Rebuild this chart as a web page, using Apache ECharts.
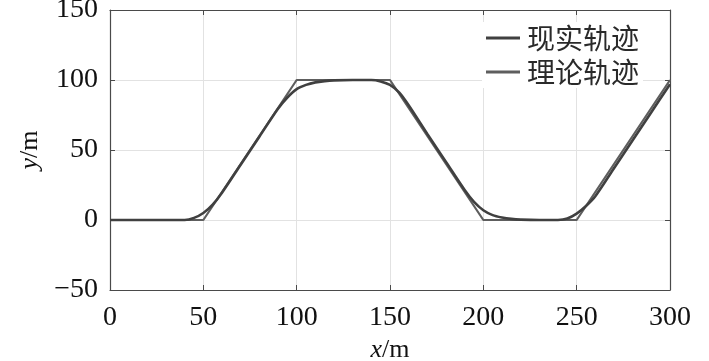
<!DOCTYPE html>
<html>
<head>
<meta charset="utf-8">
<script src="https://cdn.jsdelivr.net/npm/echarts@6/dist/echarts.min.js"></script>
<style>html,body{margin:0;padding:0;background:#fff}#main{width:709px;height:361px}</style>
</head>
<body>
<div id="main"></div>
<script>
// 理论轨迹 (折线) 与 现实轨迹 (平滑)
const theoryX = [0, 50, 100, 150, 200, 250, 300];
const theoryY = [0, 0, 100, 100, 0, 0, 100];
const realX = [0, 10, 20, 30, 40, 45, 50, 55, 60, 70, 80, 90, 95, 100, 105, 110, 115, 120, 130, 140,
  145, 150, 155, 160, 170, 180, 190, 195, 200, 205, 210, 215, 220, 230, 240, 245, 250, 255, 260,
  270, 280, 290, 300];
const realY = [0, 0, 0, 0, 0, 1.5, 5, 11, 19.5, 39.5, 59.5, 79.5, 87.5, 93.5, 96.5, 98.3, 99.2, 99.7, 100, 100,
  99, 96.5, 91, 82, 61.5, 41.5, 21.5, 13, 7, 3.5, 1.8, 0.8, 0.3, 0, 0, 1, 4.5, 10, 17,
  37, 57, 77, 97];
const xTicks = [0, 300, 50];   // min, max, step
const yTicks = [-50, 150, 50];

const serif = '"Liberation Serif", "DejaVu Serif", serif';
const axisColor = '#4a4a4a';
const zip = (xs, ys) => xs.map((x, i) => [x, ys[i]]);

const chart = echarts.init(document.getElementById('main'));
const hiddenAxis = {
  axisLine: { show: true, onZero: false, lineStyle: { color: axisColor, width: 1.2 } },
  axisTick: { show: true, inside: true, length: 5, lineStyle: { color: axisColor } },
  axisLabel: { show: false }, splitLine: { show: false },
};
chart.setOption({
  animation: false,
  grid: { left: 110, right: 39, top: 10, bottom: 71, containLabel: false, outerBoundsMode: 'none' },
  legend: {
    orient: 'vertical', left: 482, top: 22, itemWidth: 34, itemHeight: 3, itemGap: 6,
    backgroundColor: '#fff', padding: [2, 4, 2, 4],
    icon: 'rect',
    textStyle: { fontFamily: '"Noto Sans CJK SC", sans-serif', fontSize: 28, color: '#2a2a2a', padding: [0, 0, 0, 2] },
    data: ['现实轨迹', '理论轨迹'],
  },
  xAxis: [{
    type: 'value', min: xTicks[0], max: xTicks[1], interval: xTicks[2],
    name: '{i|x}/m', nameLocation: 'middle', nameGap: 46,
    nameTextStyle: { fontFamily: serif, fontSize: 26, color: '#111',
      rich: { i: { fontFamily: serif, fontStyle: 'italic', fontSize: 26, color: '#111' } } },
    axisLine: { show: true, onZero: false, lineStyle: { color: axisColor, width: 1.2 } },
    axisTick: { show: true, inside: true, length: 5, lineStyle: { color: axisColor } },
    axisLabel: { fontFamily: serif, fontSize: 28, color: '#111', margin: 14 },
    splitLine: { show: true, lineStyle: { color: '#e2e2e2', width: 1 } },
  }, Object.assign({ type: 'value', position: 'top', min: xTicks[0], max: xTicks[1], interval: xTicks[2] }, hiddenAxis)],
  yAxis: [{
    type: 'value', min: yTicks[0], max: yTicks[1], interval: yTicks[2],
    name: '{i|y}/m', nameLocation: 'middle', nameGap: 66, nameRotate: 90,
    nameTextStyle: { fontFamily: serif, fontSize: 26, color: '#111',
      rich: { i: { fontFamily: serif, fontStyle: 'italic', fontSize: 26, color: '#111' } } },
    axisLine: { show: true, onZero: false, lineStyle: { color: axisColor, width: 1.2 } },
    axisTick: { show: true, inside: true, length: 5, lineStyle: { color: axisColor } },
    axisLabel: { fontFamily: serif, fontSize: 28, color: '#111', margin: 12, padding: [5, 0, 0, 0],
      formatter: v => (v < 0 ? '\u2212' + Math.abs(v) : String(v)) },
    splitLine: { show: true, lineStyle: { color: '#e2e2e2', width: 1 } },
  }, Object.assign({ type: 'value', position: 'right', min: yTicks[0], max: yTicks[1], interval: yTicks[2] }, hiddenAxis)],
  series: [{
    name: '现实轨迹', type: 'line', data: zip(realX, realY), smooth: 0.3, symbol: 'none',
    lineStyle: { color: '#404040', width: 2.6 }, itemStyle: { color: '#404040' }, z: 3,
  }, {
    name: '理论轨迹', type: 'line', data: zip(theoryX, theoryY), symbol: 'none',
    lineStyle: { color: '#5e5e5e', width: 2.2 }, itemStyle: { color: '#5e5e5e' }, z: 2,
  }],
});
</script>
</body>
</html>
